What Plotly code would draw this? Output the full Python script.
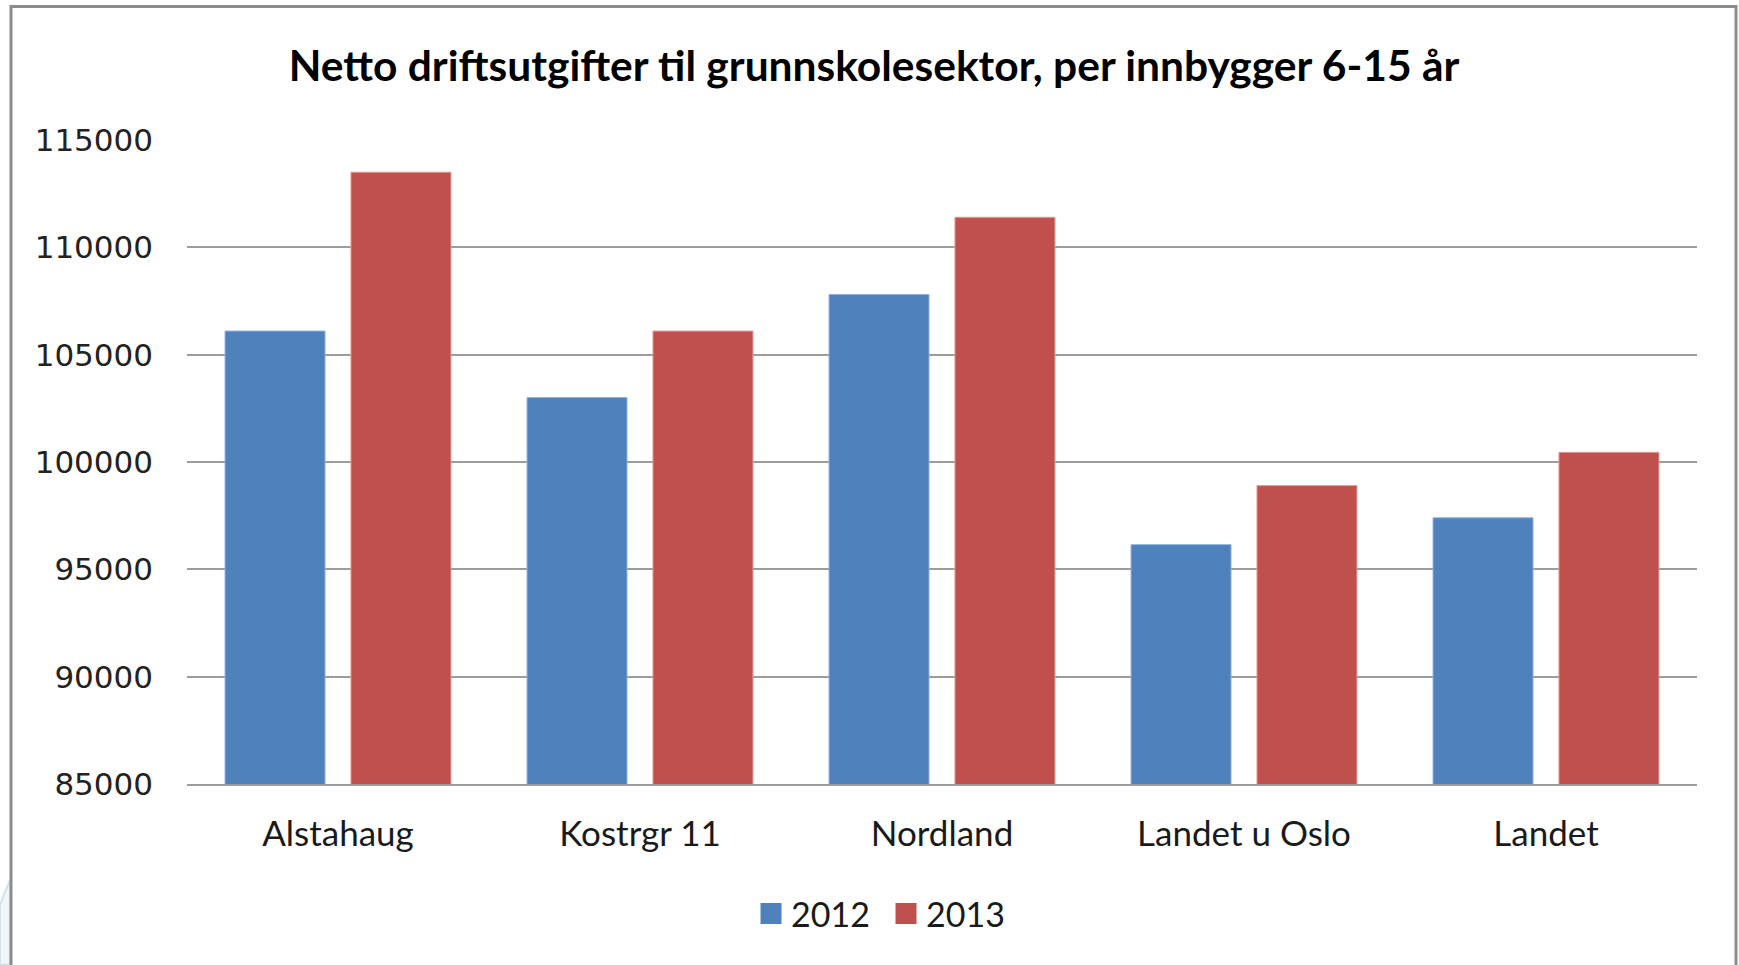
import plotly.graph_objects as go

categories = ["Alstahaug", "Kostrgr 11", "Nordland", "Landet u Oslo", "Landet"]
values_2012 = [106100, 103000, 107800, 96150, 97400]
values_2013 = [113500, 106100, 111400, 98900, 100450]
series_names = ["2012", "2013"]
series_colors = ["#4f81bd", "#c0504d"]
y_ticks = [85000, 90000, 95000, 100000, 105000, 110000, 115000]
title_text = "Netto driftsutgifter til grunnskolesektor, per innbygger 6-15 år"

W, H = 1739, 965
PL, PR, PT, PB = 187, 1697, 139.5, 784  # plot area in pixels
pw, ph = PR - PL, PB - PT

def px_x(x):
    return (x - PL) / pw

def px_y(y):
    return (PB - y) / ph

fig = go.Figure()
fig.add_trace(go.Bar(x=categories, y=values_2012, name=series_names[0], showlegend=False,
                     marker=dict(color=series_colors[0], line=dict(color="#8fb0dc", width=1))))
fig.add_trace(go.Bar(x=categories, y=values_2013, name=series_names[1], showlegend=False,
                     marker=dict(color=series_colors[1], line=dict(color="#e29a98", width=1))))
# legend entries with larger square swatches
for name, col in zip(series_names, series_colors):
    fig.add_trace(go.Scatter(x=[categories[0]], y=[None], mode="markers", name=name,
                             marker=dict(symbol="square", size=16, color=col,
                                         line=dict(color=col, width=5))))

fig.update_layout(
    width=W, height=H,
    margin=dict(l=PL, r=W - PR, t=PT, b=H - PB, pad=0),
    paper_bgcolor="white", plot_bgcolor="white",
    barmode="group", bargap=0.166, bargroupgap=0.206,
    title=dict(text=title_text, x=874 / W, xanchor="center", xref="container",
               y=1 - 66 / H, yanchor="middle", yref="container",
               font=dict(family="Lato", size=42.5, color="#000000", weight="bold")),
    showlegend=True,
    legend=dict(orientation="h", x=px_x(886), xanchor="center", y=px_y(914), yanchor="middle",
                font=dict(family="Lato", size=34, color="#1a1a1a"),
                itemwidth=30, itemsizing="trace", traceorder="normal", entrywidth=90,
                bgcolor="rgba(0,0,0,0)"),
    font=dict(family="Lato", color="#1a1a1a"),
    hovermode=False,
)

fig.update_yaxes(range=[85000, 115000], tickvals=y_ticks, ticktext=[str(v) for v in y_ticks],
                 showgrid=True, gridcolor="#9c9c9c", gridwidth=2, zeroline=False,
                 showline=False, ticks="", ticklabelstandoff=33,
                 tickfont=dict(family="DejaVu Sans", size=31, color="#222222"))
fig.update_xaxes(showgrid=False, showline=True, linecolor="#9c9c9c", linewidth=2,
                 ticks="", ticklabelstandoff=18,
                 tickfont=dict(family="Lato", size=35, color="#1a1a1a"))

# faint slide-background decoration outside the frame, bottom left
fig.add_shape(type="path", xref="paper", yref="paper",
              path=f"M {px_x(0)},{px_y(905)} L {px_x(10)},{px_y(880)} L {px_x(10)},{px_y(965)} L {px_x(0)},{px_y(965)} Z",
              line=dict(color="#cfe2ee", width=2), fillcolor="#f1f6fa", layer="below")
# outer chart border (gray frame, open at the bottom beyond the image edge)
fig.add_shape(type="rect", xref="paper", yref="paper",
              x0=px_x(11), x1=px_x(1736), y0=px_y(1000), y1=px_y(6),
              line=dict(color="#8c8c8c", width=3), fillcolor="rgba(0,0,0,0)", layer="above")

fig.write_html("out.html", config={"displayModeBar": False, "staticPlot": True},
               post_script="document.body.style.margin='0';document.body.style.overflow='hidden';")
